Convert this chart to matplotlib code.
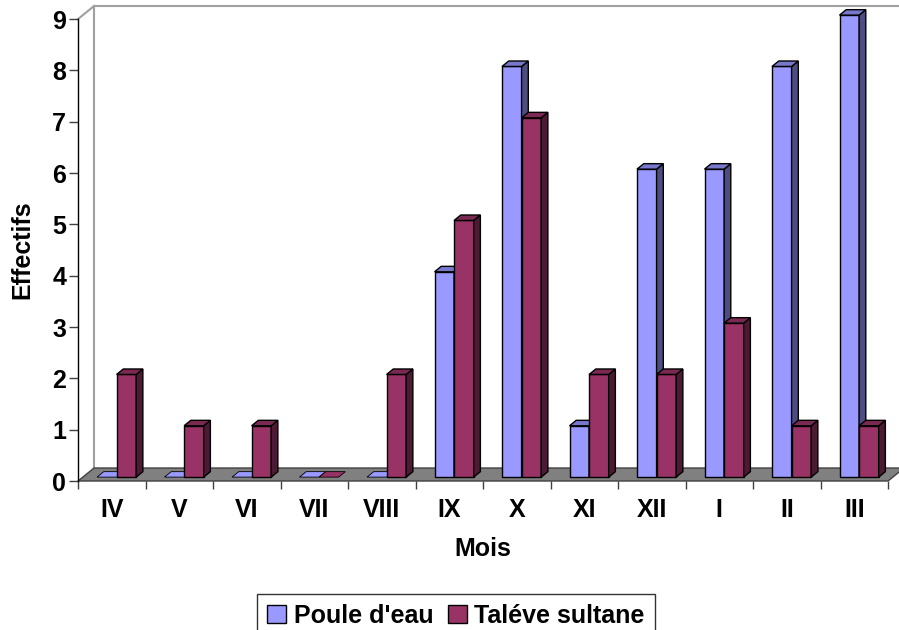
import numpy as np
import matplotlib
matplotlib.use("Agg")
import matplotlib.pyplot as plt
from matplotlib.patches import Polygon, Patch

plt.rcParams['font.family'] = ['Liberation Sans', 'DejaVu Sans']
plt.rcParams['font.weight'] = 'bold'

# Data
mois = ["IV", "V", "VI", "VII", "VIII", "IX", "X", "XI", "XII", "I", "II", "III"]
poule_eau = [0, 0, 0, 0, 0, 4, 8, 1, 6, 6, 8, 9]
taleve_sultane = [2, 1, 1, 0, 2, 5, 7, 2, 2, 3, 1, 1]

series = [
    ("Poule d'eau", poule_eau, "#9999ff", "#4d4d80", "#7777cc"),
    ("Taléve sultane", taleve_sultane, "#993366", "#4d1a33", "#7a2952"),
]

# fake 3D depth (data units)
DX = 0.237
DY = 0.253
f0, f1 = 0.3, 0.72
bar_w = 0.29

fig = plt.figure(figsize=(8.99, 6.3), dpi=100)
ax = fig.add_axes([0.0868, 0.2365, 0.901, 0.7333])
n = len(mois)
ax.set_xlim(0, n)
ax.set_ylim(0, 9)

# floor and back wall
floor = Polygon([(0, 0), (n, 0), (n + DX, DY), (DX, DY)], closed=True,
                facecolor="#808080", edgecolor="#404040", lw=1, clip_on=False, zorder=1)
ax.add_patch(floor)
wall_kw = dict(color="#a0a0a0", lw=1.5, clip_on=False, zorder=0.5)
ax.plot([0, DX], [9, 9 + DY], **wall_kw)
ax.plot([DX, DX], [DY, 9 + DY], **wall_kw)
ax.plot([DX, n + DX + 0.2], [9 + DY, 9 + DY], **wall_kw)

x = np.arange(n)
ox = f0 * DX
oy = f0 * DY
ddx = (f1 - f0) * DX
ddy = (f1 - f0) * DY
z = 2
for i in range(n):
    for k, (name, vals, fc, sc, tc) in enumerate(series):
        v = vals[i]
        left = x[i] + 0.5 - bar_w + k * bar_w + ox
        right = left + bar_w
        top = oy + v
        if v > 0:
            ax.bar(left, v, width=bar_w, bottom=oy, align='edge', color=fc,
                   edgecolor="black", lw=1, zorder=z, clip_on=False)
            ax.add_patch(Polygon([(right, oy), (right + ddx, oy + ddy),
                                  (right + ddx, top + ddy), (right, top)],
                                 closed=True, facecolor=sc, edgecolor="black",
                                 lw=1, zorder=z, clip_on=False))
        ax.add_patch(Polygon([(left, top), (right, top), (right + ddx, top + ddy),
                              (left + ddx, top + ddy)], closed=True,
                             facecolor=tc if v > 0 else fc, edgecolor="black",
                             lw=1 if v > 0 else 0.6, zorder=z, clip_on=False))
        z += 0.01

for s in ["top", "right", "bottom"]:
    ax.spines[s].set_visible(False)
ax.spines["left"].set_color("black")
ax.spines["left"].set_linewidth(1)

ax.set_yticks(range(10))
ax.tick_params(axis='y', direction='out', length=6.5, width=1, color="#404040",
               labelsize=18, pad=2)
ax.set_xticks(np.arange(n + 1))
ax.set_xticklabels([])
ax.set_xticks(x + 0.5, minor=True)
ax.set_xticklabels(mois, minor=True)
ax.tick_params(axis='x', which='major', direction='out', length=6, width=1, color="#404040")
ax.tick_params(axis='x', which='minor', length=0, labelsize=18, pad=12)
for lab in ax.get_xticklabels(minor=True) + ax.get_yticklabels():
    lab.set_fontweight('bold')

ax.set_xlabel("Mois", fontsize=18, fontweight='bold', labelpad=11)
ax.set_ylabel("Effectifs", fontsize=18, fontweight='bold', labelpad=13)

handles = [Patch(facecolor=s[2], edgecolor="black", lw=1) for s in series]
leg = fig.legend(handles, [s[0] for s in series], loc='upper center',
                 bbox_to_anchor=(456 / 899, 36 / 630), ncol=2, frameon=True,
                 fancybox=False, edgecolor="black", fontsize=18,
                 handlelength=0.75, handleheight=0.75, handletextpad=0.3,
                 columnspacing=0.6, borderpad=0.4, borderaxespad=0)
leg.get_frame().set_linewidth(1)
for t in leg.get_texts():
    t.set_fontweight('bold')

fig.savefig("out.png", dpi=100)
